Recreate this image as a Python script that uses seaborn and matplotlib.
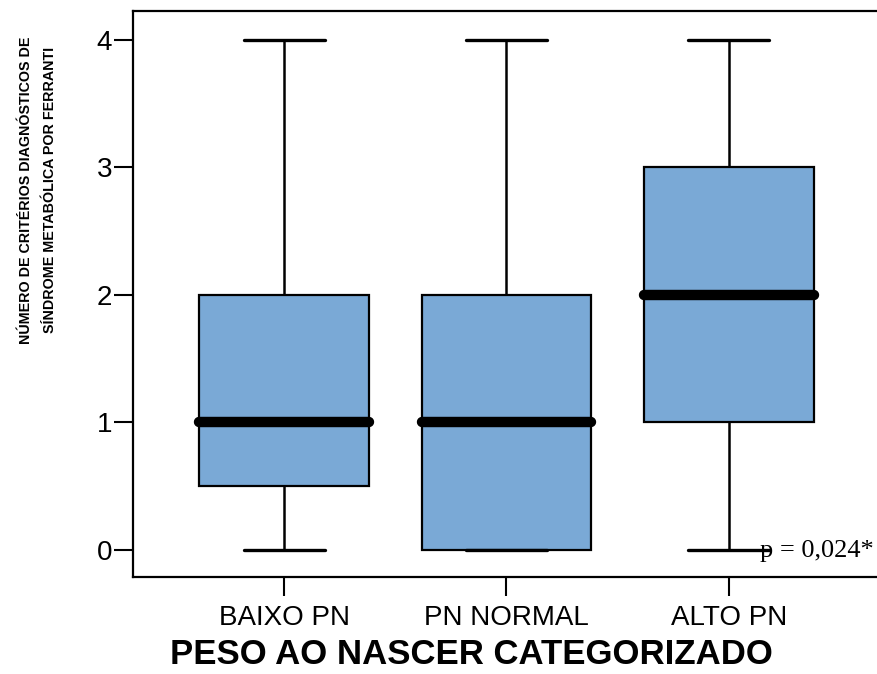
import numpy as np
import pandas as pd
import seaborn as sns
import matplotlib.pyplot as plt

# resumo de cinco números (mín, Q1, mediana, Q3, máx)
categorias = ["BAIXO PN", "PN NORMAL", "ALTO PN"]
minimos = [0, 0, 0]
q1 = [0.5, 0, 1]
medianas = [1, 1, 2]
q3 = [2, 2, 3]
maximos = [4, 4, 4]
y_ticks = [0, 1, 2, 3, 4]
texto_p = "p = 0,024*"

# cada grupo com 5 valores -> os percentis lineares reproduzem o resumo
linhas = []
for i, cat in enumerate(categorias):
    for v in (minimos[i], q1[i], medianas[i], q3[i], maximos[i]):
        linhas.append((cat, v))
df = pd.DataFrame(linhas, columns=["grupo", "criterios"])

sns.set_style("ticks")
plt.rcParams["font.family"] = ["Liberation Sans", "DejaVu Sans"]
plt.rcParams["text.color"] = "black"
plt.rcParams["axes.labelcolor"] = "black"

fig = plt.figure(figsize=(8.78, 6.74), dpi=100)
ax = fig.add_axes([133 / 878, 1 - 577 / 674, 747 / 878, 566 / 674])

sns.boxplot(data=df, x="grupo", y="criterios", order=categorias,
            color="#7aa9d6", saturation=1, width=0.764, whis=(0, 100),
            linecolor="black", linewidth=1.6, ax=ax,
            capwidths=0.364,
            medianprops=dict(color="black", linewidth=7.5, solid_capstyle="round"),
            whiskerprops=dict(linewidth=1.8),
            capprops=dict(linewidth=2.4))

ax.set_xlim(-0.679, 2.679)
ax.set_ylim(-0.212, 4.227)
ax.set_yticks(y_ticks)
ax.set_yticklabels([str(t) for t in y_ticks])

for s in ax.spines.values():
    s.set_visible(True)
    s.set_linewidth(1.6)
    s.set_color("black")
ax.tick_params(axis="both", direction="out", length=14, width=1.5,
               colors="black", labelsize=20)
ax.tick_params(axis="y", pad=1)
ax.tick_params(axis="x", pad=6)

ax.set_xlabel("PESO AO NASCER CATEGORIZADO", fontsize=25, fontweight="bold")
ax.xaxis.set_label_coords((471 - 133) / 747, (577 - 638) / 566)
ax.set_ylabel("")

fig.text(38 / 878, 1 - 190 / 674,
         "NÚMERO DE CRITÉRIOS DIAGNÓSTICOS DE\nSÍNDROME METABÓLICA POR FERRANTI",
         rotation=90, ha="center", va="center", multialignment="center",
         fontsize=10.3, fontweight="bold", linespacing=1.9)

ax.text(2.14, -0.055, texto_p, ha="left", va="baseline", fontsize=19,
        family=["Liberation Serif", "DejaVu Serif"])

fig.savefig("out.png", dpi=100)
